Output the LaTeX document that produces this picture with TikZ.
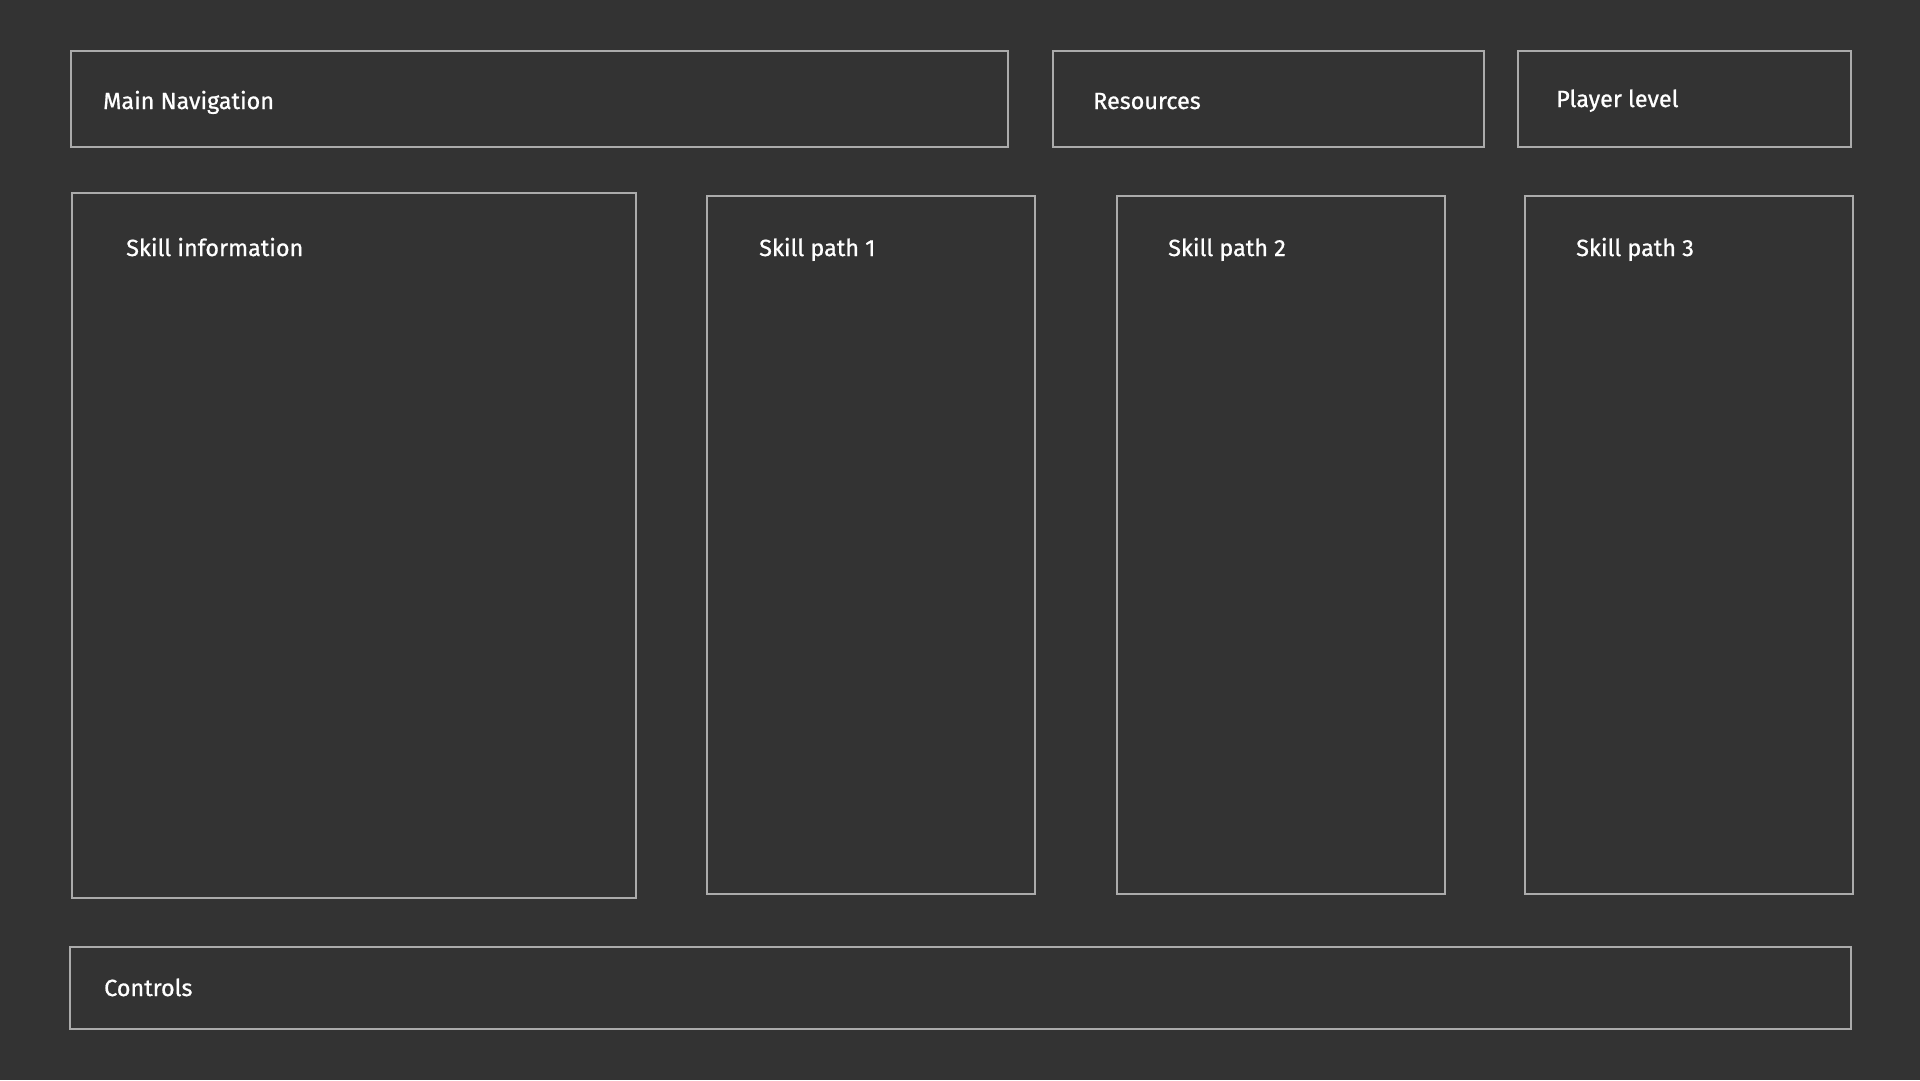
\documentclass[tikz,border=0pt]{standalone}
\usepackage{fontspec}
\setmainfont{Fira Sans}
\newfontfamily\captionfont{Fira Sans}[FakeBold=0.8]
\usepackage{tikz}
\usetikzlibrary{calc,positioning}

\definecolor{bgdark}{HTML}{333333}
\definecolor{panelline}{HTML}{ABABAB}

\tikzset{
  panel/.style={draw=panelline,line width=1.5pt,rectangle,anchor=north west,inner sep=0pt,outer sep=0pt},
  caption/.style={text=white,anchor=base west,inner sep=0pt,font=\captionfont\fontsize{23.4}{28}\selectfont}
}

\begin{document}
\begin{tikzpicture}[x=1pt,y=-1pt]
    \fill[bgdark] (0,0) rectangle (1920,1080);
    \useasboundingbox (0,0) rectangle (1920,1080);

    % top bar
    \node[panel,minimum width=937pt,minimum height=96pt] (mainnav) at (71,51) {};
    \node[panel,minimum width=431pt,minimum height=96pt] (resources) at (1053,51) {};
    \node[panel,minimum width=333pt,minimum height=96pt] (playerlvl) at (1518,51) {};

    % middle panels
    \node[panel,minimum width=564pt,minimum height=705pt] (skillinfo) at (72,193) {};
    \node[panel,minimum width=328pt,minimum height=698pt] (path1) at (707,196) {};
    \node[panel,minimum width=328pt,minimum height=698pt] (path2) at (1117,196) {};
    \node[panel,minimum width=328pt,minimum height=698pt] (path3) at (1525,196) {};

    % bottom bar
    \node[panel,minimum width=1781pt,minimum height=82pt] (controls) at (70,947) {};

    % labels
    \node[caption] (mainnavtext) at (103,109) {Main Navigation};
    \node[caption] (resourcestext) at (1093,109) {Resources};
    \node[caption] (playerlvltext) at (1556,107) {Player level};
    \node[caption] (skillinfotext) at (126,256) {Skill information};
    \node[caption] (path1text) at (759,256) {Skill path 1};
    \node[caption] (path2text) at (1168,256) {Skill path 2};
    \node[caption] (path3text) at (1576,256) {Skill path 3};
    \node[caption] (controlstext) at (104,996) {Controls};
\end{tikzpicture}
\end{document}
